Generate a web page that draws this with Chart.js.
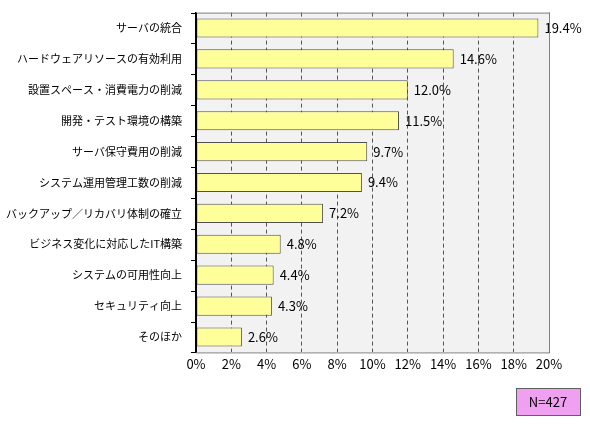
<!DOCTYPE html>
<html><head><meta charset="utf-8">
<script src="https://cdn.jsdelivr.net/npm/chart.js@4/dist/chart.umd.min.js"></script>
<style>body{margin:0;background:#fff}#w{width:590px;height:430px}</style>
</head><body><div id="w"><canvas id="c"></canvas></div>
<script>
const categories=["サーバの統合","ハードウェアリソースの有効利用","設置スペース・消費電力の削減","開発・テスト環境の構築","サーバ保守費用の削減","システム運用管理工数の削減","バックアップ／リカバリ体制の確立","ビジネス変化に対応したIT構築","システムの可用性向上","セキュリティ向上","そのほか"];
const values=[19.4,14.6,12.0,11.5,9.7,9.4,7.2,4.8,4.4,4.3,2.6];
const tickLabels=["0%","2%","4%","6%","8%","10%","12%","14%","16%","18%","20%"];
const sampleNote="N=427";
const FONT="'Noto Sans CJK JP', sans-serif";
const bgPlugin={id:'bg',beforeDraw(ch){const a=ch.chartArea,c=ch.ctx;c.save();c.fillStyle='#f2f2f2';c.fillRect(a.left,a.top,a.right-a.left,a.bottom-a.top);c.restore();},
afterDatasetsDraw(ch){const c=ch.ctx,m=ch.getDatasetMeta(0);c.save();c.font="13px "+FONT;c.fillStyle='#000';c.textBaseline='middle';
m.data.forEach((b,i)=>c.fillText(values[i].toFixed(1)+'%',b.x+6,b.y));
const a=ch.chartArea;c.strokeStyle='#000';c.lineWidth=1;c.beginPath();
const n=categories.length,h=(a.bottom-a.top)/n;for(let i=0;i<=n;i++){const y=Math.round(a.top+i*h)+0.5;c.moveTo(a.left-5,y);c.lineTo(a.left,y);}c.stroke();
c.strokeStyle='#808080';c.strokeRect(a.left+0.5,a.top+0.5,a.right-a.left,a.bottom-a.top);
c.strokeStyle='#000';c.beginPath();c.moveTo(a.left+0.5,a.top);c.lineTo(a.left+0.5,a.bottom);c.stroke();
c.fillStyle='#f0a0f0';c.fillRect(516,388,64,27);c.strokeStyle='#606060';c.strokeRect(516.5,388.5,64,27);
c.fillStyle='#000';c.textAlign='center';c.font="13px "+FONT;c.fillText(sampleNote,548,402);c.restore();}};
new Chart(document.getElementById('c'),{type:'bar',
data:{labels:categories,datasets:[{data:values,backgroundColor:'#ffff99',borderColor:'#505050',borderWidth:1,borderSkipped:false,categoryPercentage:0.62,barPercentage:1}]},
options:{indexAxis:'y',responsive:true,maintainAspectRatio:false,animation:false,
layout:{padding:{top:8,right:41,bottom:54,left:0}},
plugins:{legend:{display:false},tooltip:{enabled:false}},
scales:{x:{min:0,max:20,afterBuildTicks(ax){ax.ticks=tickLabels.map((t,i)=>({value:i*2}));},
ticks:{callback:(v,i)=>tickLabels[i],color:'#000',font:{family:FONT,size:13},padding:4,maxRotation:0},
grid:{color:'#555',drawTicks:false,tickLength:0},border:{display:true,color:'rgba(0,0,0,0)',dash:[4,3]}},
y:{ticks:{color:'#000',font:{family:FONT,size:11},padding:6},grid:{display:false},border:{color:'#000'}}}},
plugins:[bgPlugin]});
</script></body></html>
